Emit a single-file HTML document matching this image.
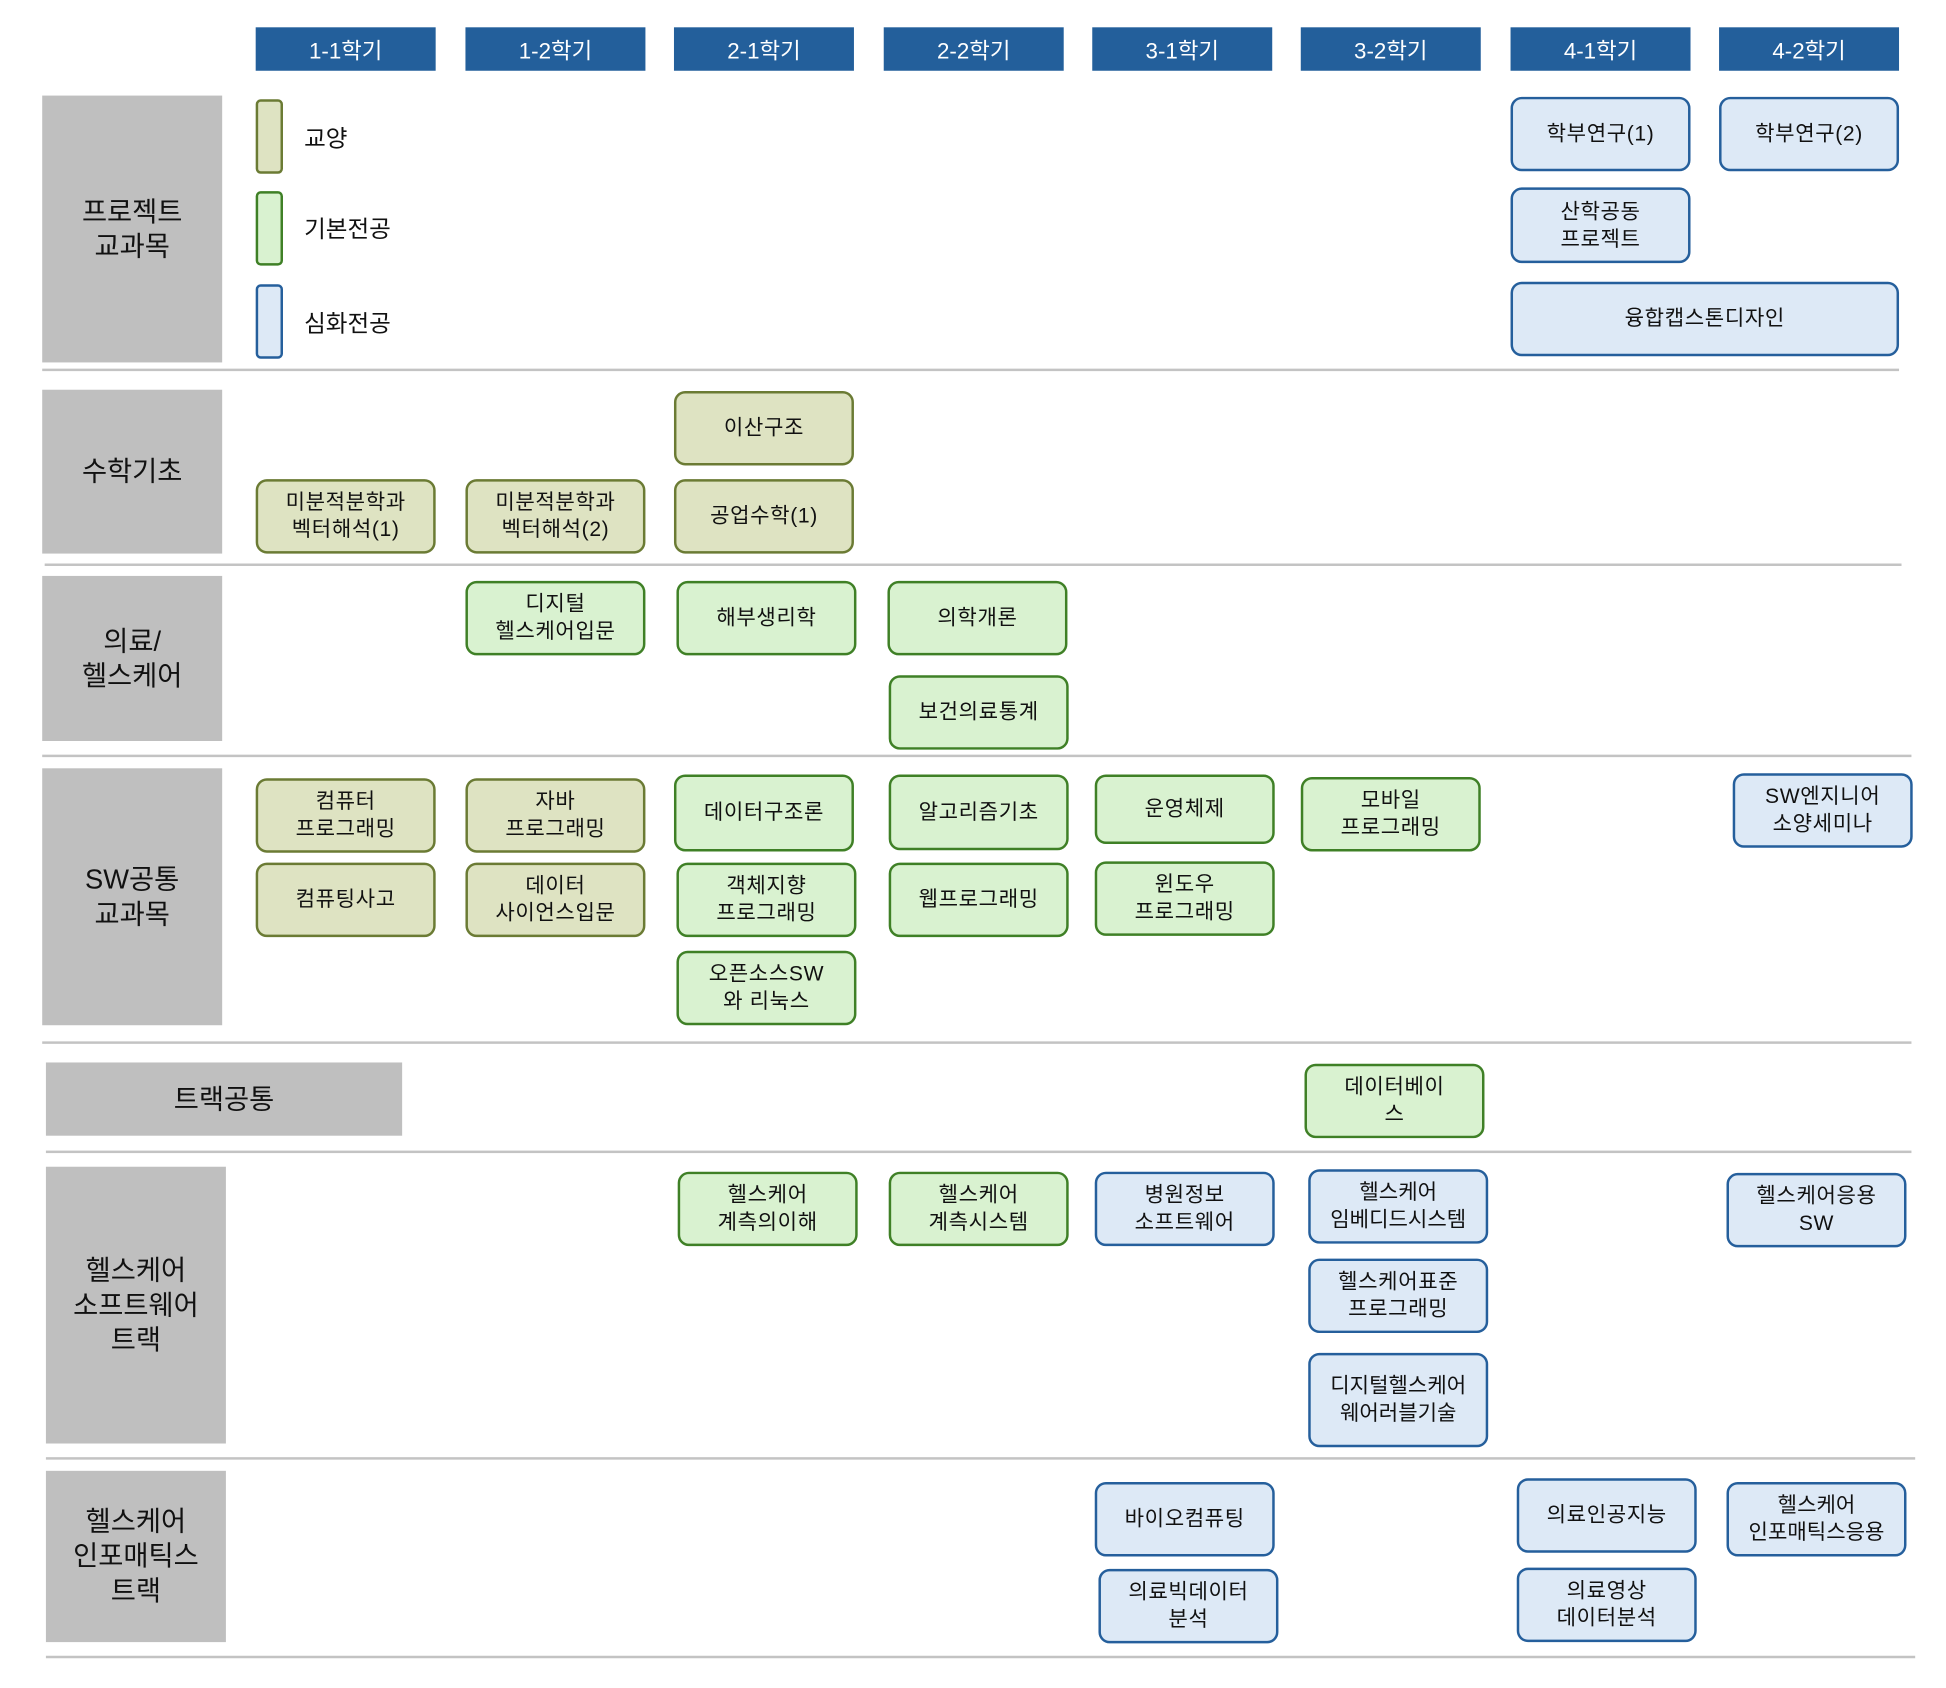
<!DOCTYPE html>
<html><head><meta charset="utf-8"><style>
html,body{margin:0;padding:0;background:#fff;}
body{width:1946px;height:1688px;overflow:hidden;position:relative;}
#w{position:absolute;left:0;top:0;width:1570px;height:1360px;transform:scale(1.2412);transform-origin:0 0;font-family:"Liberation Sans","Noto Sans CJK KR",sans-serif;color:#111;}
.h{position:absolute;top:22px;width:145px;height:35px;background:#235f9b;color:#fff;font-size:18px;display:flex;align-items:center;justify-content:center;}
.c{position:absolute;background:#bfbfbf;font-size:22px;display:flex;align-items:center;justify-content:center;text-align:center;line-height:28px;}
.l{position:absolute;height:2px;background:#c3c3c3;}
.lg{position:absolute;left:206px;width:22px;height:60px;box-sizing:border-box;border:2px solid;border-radius:4px;}
.b{position:absolute;box-sizing:border-box;border:2px solid;border-radius:9px;display:flex;align-items:center;justify-content:center;text-align:center;font-size:17px;line-height:22px;letter-spacing:0.5px;}
.o{background:#dee3c2;border-color:#6b7b34;}
.g{background:#d9f2d0;border-color:#3f8026;}
.u{background:#dde9f6;border-color:#255f9c;}
.lt{position:absolute;left:245px;font-size:19px;}
</style></head><body><div id="w">
<div class="h" style="left:206px">1-1학기</div>
<div class="h" style="left:375px">1-2학기</div>
<div class="h" style="left:543px">2-1학기</div>
<div class="h" style="left:712px">2-2학기</div>
<div class="h" style="left:880px">3-1학기</div>
<div class="h" style="left:1048px">3-2학기</div>
<div class="h" style="left:1217px">4-1학기</div>
<div class="h" style="left:1385px">4-2학기</div>

<div class="c" style="left:34px;top:77px;width:145px;height:215px">프로젝트<br>교과목</div>
<div class="l" style="left:34px;top:297px;width:1496px"></div>
<div class="c" style="left:34px;top:314px;width:145px;height:132px">수학기초</div>
<div class="l" style="left:36px;top:454px;width:1496px"></div>
<div class="c" style="left:34px;top:464px;width:145px;height:133px">의료/<br>헬스케어</div>
<div class="l" style="left:34px;top:608px;width:1506px"></div>
<div class="c" style="left:34px;top:619px;width:145px;height:207px">SW공통<br>교과목</div>
<div class="l" style="left:34px;top:839px;width:1506px"></div>
<div class="c" style="left:37px;top:856px;width:287px;height:59px">트랙공통</div>
<div class="l" style="left:37px;top:927px;width:1503px"></div>
<div class="c" style="left:37px;top:940px;width:145px;height:223px">헬스케어<br>소프트웨어<br>트랙</div>
<div class="l" style="left:37px;top:1174px;width:1506px"></div>
<div class="c" style="left:37px;top:1185px;width:145px;height:138px">헬스케어<br>인포매틱스<br>트랙</div>
<div class="l" style="left:37px;top:1334px;width:1506px"></div>

<div class="lg o" style="top:80px"></div><div class="lt" style="top:97px">교양</div>
<div class="lg g" style="top:154px"></div><div class="lt" style="top:170px">기본전공</div>
<div class="lg u" style="top:229px"></div><div class="lt" style="top:246px">심화전공</div>

<div class="b u" style="left:1217px;top:78px;width:145px;height:60px">학부연구(1)</div>
<div class="b u" style="left:1385px;top:78px;width:145px;height:60px">학부연구(2)</div>
<div class="b u" style="left:1217px;top:151px;width:145px;height:61px">산학공동<br>프로젝트</div>
<div class="b u" style="left:1217px;top:227px;width:313px;height:60px">융합캡스톤디자인</div>

<div class="b o" style="left:543px;top:315px;width:145px;height:60px">이산구조</div>
<div class="b o" style="left:206px;top:386px;width:145px;height:60px">미분적분학과<br>벡터해석(1)</div>
<div class="b o" style="left:375px;top:386px;width:145px;height:60px">미분적분학과<br>벡터해석(2)</div>
<div class="b o" style="left:543px;top:386px;width:145px;height:60px">공업수학(1)</div>

<div class="b g" style="left:375px;top:468px;width:145px;height:60px">디지털<br>헬스케어입문</div>
<div class="b g" style="left:545px;top:468px;width:145px;height:60px">해부생리학</div>
<div class="b g" style="left:715px;top:468px;width:145px;height:60px">의학개론</div>
<div class="b g" style="left:716px;top:544px;width:145px;height:60px">보건의료통계</div>

<div class="b o" style="left:206px;top:627px;width:145px;height:60px">컴퓨터<br>프로그래밍</div>
<div class="b o" style="left:206px;top:695px;width:145px;height:60px">컴퓨팅사고</div>
<div class="b o" style="left:375px;top:627px;width:145px;height:60px">자바<br>프로그래밍</div>
<div class="b o" style="left:375px;top:695px;width:145px;height:60px">데이터<br>사이언스입문</div>
<div class="b g" style="left:543px;top:624px;width:145px;height:62px">데이터구조론</div>
<div class="b g" style="left:545px;top:695px;width:145px;height:60px">객체지향<br>프로그래밍</div>
<div class="b g" style="left:545px;top:766px;width:145px;height:60px">오픈소스SW<br>와 리눅스</div>
<div class="b g" style="left:716px;top:624px;width:145px;height:61px">알고리즘기초</div>
<div class="b g" style="left:716px;top:695px;width:145px;height:60px">웹프로그래밍</div>
<div class="b g" style="left:882px;top:624px;width:145px;height:56px">운영체제</div>
<div class="b g" style="left:882px;top:694px;width:145px;height:60px">윈도우<br>프로그래밍</div>
<div class="b g" style="left:1048px;top:626px;width:145px;height:60px">모바일<br>프로그래밍</div>
<div class="b u" style="left:1396px;top:623px;width:145px;height:60px">SW엔지니어<br>소양세미나</div>

<div class="b g" style="left:1051px;top:857px;width:145px;height:60px">데이터베이<br>스</div>

<div class="b g" style="left:546px;top:944px;width:145px;height:60px">헬스케어<br>계측의이해</div>
<div class="b g" style="left:716px;top:944px;width:145px;height:60px">헬스케어<br>계측시스템</div>
<div class="b u" style="left:882px;top:944px;width:145px;height:60px">병원정보<br>소프트웨어</div>
<div class="b u" style="left:1054px;top:942px;width:145px;height:60px;letter-spacing:0">헬스케어<br>임베디드시스템</div>
<div class="b u" style="left:1054px;top:1014px;width:145px;height:60px">헬스케어표준<br>프로그래밍</div>
<div class="b u" style="left:1054px;top:1090px;width:145px;height:76px;letter-spacing:0">디지털헬스케어<br>웨어러블기술</div>
<div class="b u" style="left:1391px;top:945px;width:145px;height:60px">헬스케어응용<br>SW</div>

<div class="b u" style="left:882px;top:1194px;width:145px;height:60px">바이오컴퓨팅</div>
<div class="b u" style="left:885px;top:1264px;width:145px;height:60px">의료빅데이터<br>분석</div>
<div class="b u" style="left:1222px;top:1191px;width:145px;height:60px">의료인공지능</div>
<div class="b u" style="left:1222px;top:1263px;width:145px;height:60px">의료영상<br>데이터분석</div>
<div class="b u" style="left:1391px;top:1194px;width:145px;height:60px;letter-spacing:0">헬스케어<br>인포매틱스응용</div>
</div></body></html>
